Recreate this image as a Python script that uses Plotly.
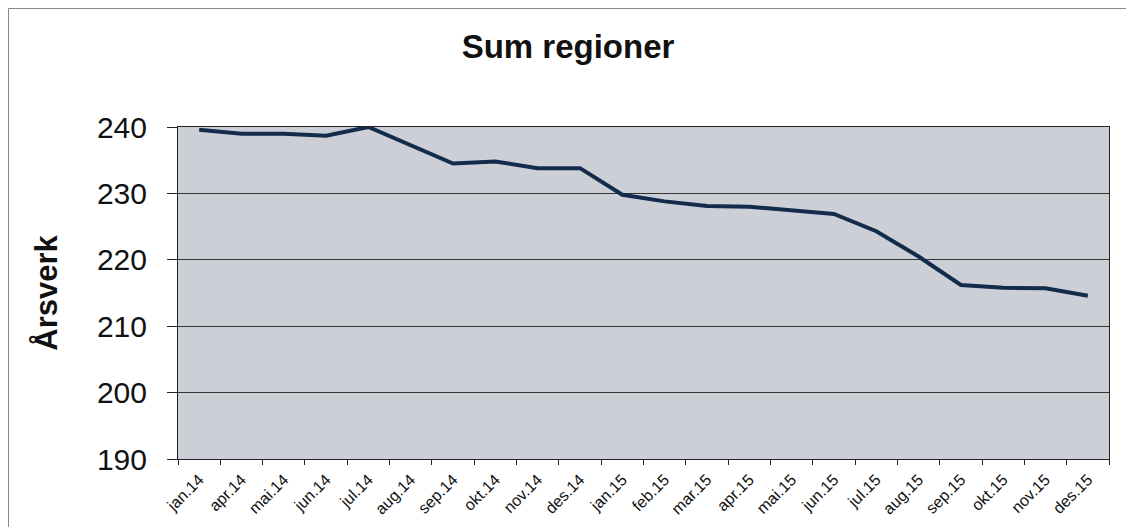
import plotly.graph_objects as go

months = ["jan.14", "apr.14", "mai.14", "jun.14", "jul.14", "aug.14", "sep.14", "okt.14",
          "nov.14", "des.14", "jan.15", "feb.15", "mar.15", "apr.15", "mai.15", "jun.15",
          "jul.15", "aug.15", "sep.15", "okt.15", "nov.15", "des.15"]
arsverk = [239.6, 239.0, 239.0, 238.7, 240.0, 237.3, 234.5, 234.8, 233.8, 233.8, 229.8,
           228.8, 228.1, 228.0, 227.4, 226.9, 224.3, 220.5, 216.2, 215.8, 215.7, 214.6]
y_ticks = [190, 200, 210, 220, 230, 240]

# page body has an 8px margin, so the figure is sized to the remaining area
W, H = 1126, 519
L, R, T, B = 170, 25, 119, 68
PW, PH = W - L - R, H - T - B

fig = go.Figure()
fig.add_trace(go.Scatter(
    x=months, y=arsverk, mode="lines",
    line=dict(color="#142c4c", width=4), showlegend=False,
))

fig.update_layout(
    width=W, height=H,
    margin=dict(l=L, r=R, t=T, b=B, autoexpand=False),
    paper_bgcolor="white",
    plot_bgcolor="#cdcfd7",
    font=dict(family="Liberation Sans, Arial, sans-serif", color="#111111"),
    title=dict(text="<b>Sum regioner</b>", x=560 / W, xanchor="center",
               y=1 - 38 / H, yanchor="middle", font=dict(size=33, color="#111111")),
    xaxis=dict(
        type="category", range=[-0.5, len(months) - 0.5],
        tickson="boundaries", ticks="outside", ticklen=5, tickcolor="#222",
        tickangle=-45, tickfont=dict(size=16, color="#111"), ticklabelstandoff=4,
        showgrid=False, showline=True, linecolor="#222", linewidth=1, mirror=True,
        automargin=False,
    ),
    yaxis=dict(
        range=[190, 240], tickvals=y_ticks, ticks="outside", ticklen=10,
        tickcolor="#222", tickfont=dict(size=30, color="#111"), ticklabelstandoff=14,
        showgrid=True, gridcolor="#333", gridwidth=1,
        showline=True, linecolor="#222", linewidth=1, mirror=True,
        zeroline=False, automargin=False,
        title=dict(text="<b>Årsverk</b>", font=dict(size=31, color="#111"), standoff=30),
    ),
    shapes=[
        dict(type="line", xref="paper", yref="paper",
             x0=-(L - 0.5) / PW, x1=1 + R / PW,
             y0=1 + (T - 0.5) / PH, y1=1 + (T - 0.5) / PH,
             line=dict(color="#888", width=1)),
        dict(type="line", xref="paper", yref="paper",
             x0=-(L - 0.5) / PW, x1=-(L - 0.5) / PW,
             y0=1 + (T - 0.5) / PH, y1=-B / PH,
             line=dict(color="#888", width=1)),
    ],
)

fig.write_html("out.html")
